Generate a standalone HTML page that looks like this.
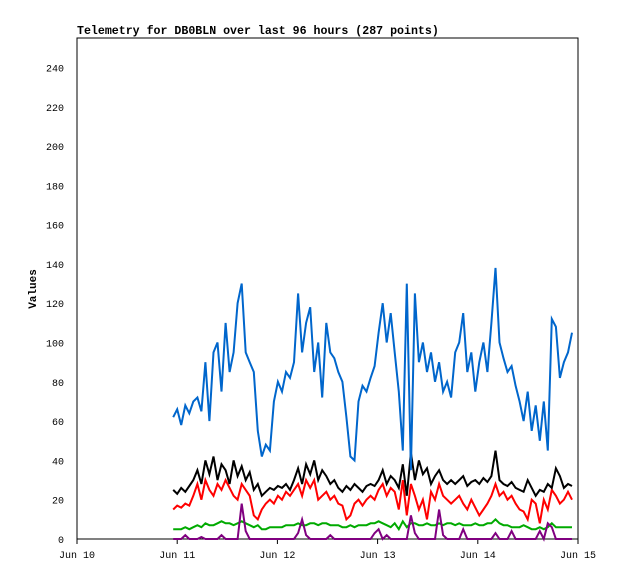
<!DOCTYPE html>
<html><head><meta charset="utf-8"><style>
html,body{margin:0;padding:0;background:#fff;}
svg{display:block;font-family:"Liberation Mono",monospace;}
</style></head><body>
<svg id="chart" width="618" height="579" viewBox="0 0 618 579">
<text x="77" y="34" font-size="11.6" font-weight="bold">Telemetry for DB0BLN over last 96 hours (287 points)</text>
<text transform="translate(36,289) rotate(-90)" text-anchor="middle" font-size="11" font-weight="bold">Values</text>
<rect x="77" y="38" width="501" height="501" fill="none" stroke="#000" stroke-width="1"/>
<g id="yticks"></g><g id="xticks"></g><g id="series"></g>
</svg>
<script>
const yTicks=[0,20,40,60,80,100,120,140,160,180,200,220,240];
const xTickLabels=["Jun 10","Jun 11","Jun 12","Jun 13","Jun 14","Jun 15"];
const blue=[62,66,58,68,64,70,72,65,90,60,95,100,75,110,85,95,120,130,95,90,85,55,42,48,45,70,80,75,85,82,90,125,95,110,118,85,100,72,110,95,92,85,80,62,42,40,70,78,75,82,88,105,120,100,115,95,75,45,130,35,125,90,100,85,95,80,90,75,80,72,95,100,115,85,95,75,90,100,85,110,138,100,92,85,88,78,70,60,75,55,68,50,70,45,112,108,82,90,95,105];
const black=[25,23,26,24,27,30,35,28,40,33,42,30,38,35,28,40,32,37,30,34,25,28,22,24,26,25,27,26,28,25,30,36,28,38,33,40,30,35,32,28,30,26,24,27,25,28,26,24,27,28,27,30,35,28,32,30,26,38,22,44,30,40,33,36,28,32,35,30,28,30,28,30,32,27,29,30,28,31,29,32,45,30,28,27,29,26,25,24,30,26,22,25,24,28,26,36,32,26,28,27];
const red=[15,17,16,18,17,22,28,20,30,25,22,28,25,30,26,22,20,28,25,22,12,10,15,18,20,18,22,20,24,22,25,28,22,30,26,30,20,22,24,20,22,18,17,10,12,18,20,17,20,22,20,25,28,22,26,24,15,30,12,28,22,15,20,10,24,20,28,22,20,18,20,22,18,15,20,16,12,15,18,22,28,22,24,20,22,18,15,14,10,20,18,8,20,15,25,22,18,20,24,20];
const green=[5,5,5,6,5,6,7,6,8,7,7,8,9,8,8,7,8,9,8,7,6,7,5,5,6,6,6,6,7,7,7,8,7,7,8,8,7,8,8,7,7,7,6,6,7,6,7,7,7,8,8,9,8,7,6,8,5,9,6,8,8,7,7,8,7,7,8,7,8,8,7,8,7,7,7,8,7,7,8,8,10,8,7,7,6,6,6,7,6,5,5,6,5,6,8,6,6,6,6,6];
const purple=[0,0,0,2,0,0,0,1,0,0,0,0,2,0,0,0,0,18,4,0,0,0,0,0,0,0,0,0,0,0,0,3,10,2,0,0,0,0,0,2,0,0,0,0,0,0,0,0,0,0,3,5,0,2,0,0,0,0,0,12,3,0,0,0,0,0,15,2,0,0,0,0,5,0,0,0,0,0,0,0,3,0,0,0,4,0,0,0,0,0,0,4,0,8,6,0,0,0,0,0];
const NS="http://www.w3.org/2000/svg";
const L=77,R=578,T=38,B=539,YMAX=255;
const y=v=>B-v*(B-T)/YMAX;
const dayX=d=>L+d*(R-L)/5;
const startDay=0.96,endDay=4.94;
const x=(i,n)=>dayX(startDay+(endDay-startDay)*i/(n-1));
const yt=document.getElementById('yticks');
yTicks.forEach(v=>{
 const t=document.createElementNS(NS,'text');
 
 
 t.setAttribute('x',64);t.setAttribute('y',y(v)+4);t.setAttribute('text-anchor','end');t.setAttribute('font-size','10');
 t.textContent=v;yt.appendChild(t);
});
const xt=document.getElementById('xticks');
xTickLabels.forEach((s,i)=>{
 const px=dayX(i);
 const l=document.createElementNS(NS,'line');
 
 
 l.setAttribute('x1',px);l.setAttribute('x2',px);l.setAttribute('y1',B);l.setAttribute('y2',B+5);l.setAttribute('stroke','#000');
 xt.appendChild(l);
 const t=document.createElementNS(NS,'text');
 
 
 t.setAttribute('x',px);t.setAttribute('y',B+19);t.setAttribute('text-anchor','middle');t.setAttribute('font-size','10');
 t.textContent=s;xt.appendChild(t);
});
const sg=document.getElementById('series');
[[green,'#00aa00','series-green'],[red,'#ff0000','series-red'],[black,'#000000','series-black'],[blue,'#0066cc','series-blue'],[purple,'#800080','series-purple']].forEach(([d,c,nm])=>{
 const p=document.createElementNS(NS,'polyline');
 
 
 p.setAttribute('points',d.map((v,i)=>x(i,d.length).toFixed(1)+','+y(v).toFixed(1)).join(' '));
 p.setAttribute('fill','none');p.setAttribute('stroke',c);p.setAttribute('stroke-width','2');
 sg.appendChild(p);
});
</script>
</body></html>
